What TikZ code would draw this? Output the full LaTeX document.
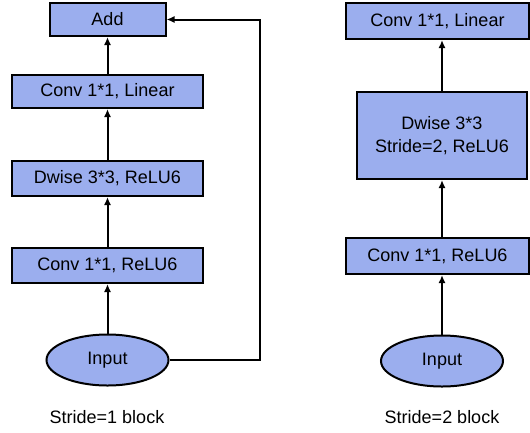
\documentclass[tikz,border=0pt]{standalone}
\usepackage{fontspec}
\setmainfont{Liberation Sans}
\usetikzlibrary{arrows.meta,positioning,calc,shapes.geometric}
\definecolor{layerblue}{RGB}{155,174,238}

\begin{document}
\begin{tikzpicture}[x=1pt, y=-1pt,
    layerbox/.style={rectangle, draw=black, fill=layerblue, line width=2pt,
        align=center, inner sep=2pt, font=\fontsize{18}{23}\selectfont},
    inputnode/.style={ellipse, draw=black, fill=layerblue, line width=2pt,
        minimum width=122pt, minimum height=51pt, font=\fontsize{18}{23}\selectfont},
    flow/.style={line width=2pt, -{Latex[length=8pt,width=7pt]}},
    caption/.style={font=\fontsize{18}{23}\selectfont}]
    \clip (0,0) rectangle (530,432);
    % stride 1
    \node[inputnode] (in1) at (107.5,360) {Input};
    \node[layerbox, minimum width=191pt, minimum height=35pt] (c1a) at (107.5,265.5) {Conv 1*1, ReLU6};
    \node[layerbox, minimum width=191pt, minimum height=35pt] (dw1) at (107.5,178.5) {Dwise 3*3, ReLU6};
    \node[layerbox, minimum width=191pt, minimum height=33pt] (c1b) at (107.5,91.5) {Conv 1*1, Linear};
    \node[layerbox, minimum width=116pt, minimum height=33pt] (add) at (107.5,19.5) {Add};
    \node[caption] (cap1) at (107,417) {Stride=1 block};
    \coordinate (skip) at (260,19.5);
    \draw[flow] (in1) -- (c1a);
    \draw[flow] (c1a) -- (dw1);
    \draw[flow] (dw1) -- (c1b);
    \draw[flow] (c1b) -- (add);
    \draw[flow] (in1.east) -| (skip) -- (add.east);
    % stride 2
    \node[inputnode] (in2) at (442,361) {Input};
    \node[layerbox, minimum width=183pt, minimum height=36pt] (c2a) at (437.5,256) {Conv 1*1, ReLU6};
    \node[layerbox, minimum width=170pt, minimum height=87pt] (dw2) at (442,135.5) {Dwise 3*3\\Stride=2, ReLU6};
    \node[layerbox, minimum width=183pt, minimum height=36pt] (c2b) at (437.5,21) {Conv 1*1, Linear};
    \node[caption] (cap2) at (442,417) {Stride=2 block};
    \draw[flow] (in2.north) -- (in2.north |- c2a.south);
    \draw[flow] (in2.north |- c2a.north) -- (dw2.south);
    \draw[flow] (dw2.north) -- (dw2.north |- c2b.south);
\end{tikzpicture}
\end{document}
